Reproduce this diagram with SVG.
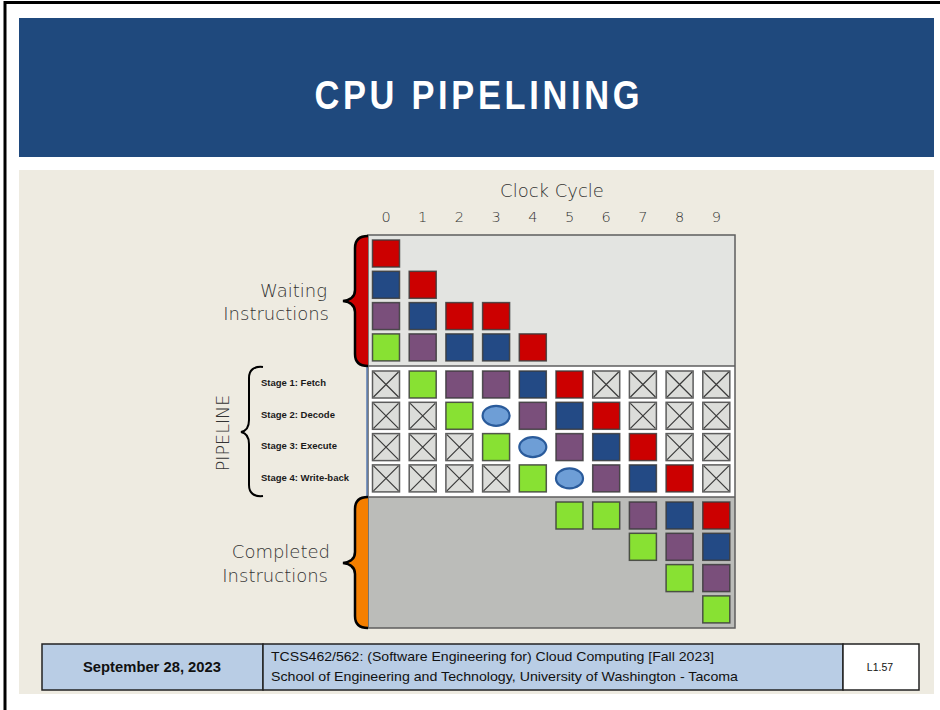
<svg xmlns="http://www.w3.org/2000/svg" xmlns:xlink="http://www.w3.org/1999/xlink" width="940" height="710" viewBox="0 0 940 710">
<style>
.lbl{font-family:"DejaVu Sans","Liberation Sans",sans-serif;font-weight:200;fill:#333}
.num{font-family:"DejaVu Sans","Liberation Sans",sans-serif;font-weight:200;fill:#333;font-size:14.5px;text-anchor:middle}
.stg{font-family:"Liberation Sans",sans-serif;font-weight:bold;font-size:9.5px;fill:#1a1a1a}
.r{fill:#CC0000}.b{fill:#234A85}.p{fill:#7A4F7B}.g{fill:#88E133}
.sq{stroke:#3b3b3b;stroke-width:1.5;stroke-opacity:0.85}
.bub{fill:#6E9ED6;stroke:#2A5B9B;stroke-width:2.2}
.ft{font-family:"Liberation Sans",sans-serif;fill:#111}
</style>
<defs>
<g id="xc"><rect width="27" height="27" fill="#DCDDDA" stroke="#5c5c5c" stroke-width="1.5"/><path d="M1,1 L26,26 M26,1 L1,26" stroke="#3a3a3a" stroke-width="1.2" fill="none"/></g>
</defs>
<rect x="0" y="0" width="940" height="710" fill="#ffffff"/>
<path d="M5,710 L5,2.5 L940,2.5" fill="none" stroke="#000" stroke-width="3"/>
<g id="title">
<rect x="19" y="18" width="915" height="139" fill="#1F497D"/>
<text transform="translate(477,109) scale(0.84,1)" x="0" y="0" text-anchor="middle" font-family="Liberation Sans, sans-serif" font-weight="bold" font-size="41" fill="#ffffff" textLength="387" lengthAdjust="spacing">CPU PIPELINING</text>
</g>
<rect x="19" y="170" width="915" height="524" fill="#EEEBE1"/>
<g id="axis">
<text class="lbl" x="552" y="197" font-size="18" text-anchor="middle">Clock Cycle</text>
<text class="num" x="386" y="222">0</text>
<text class="num" x="422.7" y="222">1</text>
<text class="num" x="459.4" y="222">2</text>
<text class="num" x="496.1" y="222">3</text>
<text class="num" x="532.8" y="222">4</text>
<text class="num" x="569.5" y="222">5</text>
<text class="num" x="606.2" y="222">6</text>
<text class="num" x="642.9" y="222">7</text>
<text class="num" x="679.6" y="222">8</text>
<text class="num" x="716.3" y="222">9</text>
</g>
<g id="chart">
<rect x="368" y="235" width="367" height="131" fill="#E3E4E1"/>
<rect x="368" y="366" width="367" height="131" fill="#FFFFFF"/>
<rect x="368" y="497" width="367" height="131" fill="#BBBCB9"/>
<rect x="368" y="235" width="367" height="393" fill="none" stroke="#5e5e5e" stroke-width="1.5"/>
<line x1="368" y1="366" x2="735" y2="366" stroke="#5e5e5e" stroke-width="1.5"/>
<line x1="368" y1="497" x2="735" y2="497" stroke="#5e5e5e" stroke-width="1.5"/>
<line x1="367" y1="366" x2="367" y2="497" stroke="#5a7db3" stroke-width="1.5"/>
</g>
<g id="waiting">
<rect class="sq r" x="372.5" y="240" width="27" height="27"/>
<rect class="sq b" x="372.5" y="271.3" width="27" height="27"/>
<rect class="sq r" x="409.2" y="271.3" width="27" height="27"/>
<rect class="sq p" x="372.5" y="302.6" width="27" height="27"/>
<rect class="sq b" x="409.2" y="302.6" width="27" height="27"/>
<rect class="sq r" x="445.9" y="302.6" width="27" height="27"/>
<rect class="sq r" x="482.6" y="302.6" width="27" height="27"/>
<rect class="sq g" x="372.5" y="333.9" width="27" height="27"/>
<rect class="sq p" x="409.2" y="333.9" width="27" height="27"/>
<rect class="sq b" x="445.9" y="333.9" width="27" height="27"/>
<rect class="sq b" x="482.6" y="333.9" width="27" height="27"/>
<rect class="sq r" x="519.3" y="333.9" width="27" height="27"/>
</g>
<g id="pipeline">
<use xlink:href="#xc" x="372.5" y="371"/>
<rect class="sq g" x="409.2" y="371" width="27" height="27"/>
<rect class="sq p" x="445.9" y="371" width="27" height="27"/>
<rect class="sq p" x="482.6" y="371" width="27" height="27"/>
<rect class="sq b" x="519.3" y="371" width="27" height="27"/>
<rect class="sq r" x="556" y="371" width="27" height="27"/>
<use xlink:href="#xc" x="592.7" y="371"/>
<use xlink:href="#xc" x="629.4" y="371"/>
<use xlink:href="#xc" x="666.1" y="371"/>
<use xlink:href="#xc" x="702.8" y="371"/>

<use xlink:href="#xc" x="372.5" y="402.3"/>
<use xlink:href="#xc" x="409.2" y="402.3"/>
<rect class="sq g" x="445.9" y="402.3" width="27" height="27"/>
<ellipse class="bub" cx="496.1" cy="415.8" rx="13.5" ry="10"/>
<rect class="sq p" x="519.3" y="402.3" width="27" height="27"/>
<rect class="sq b" x="556" y="402.3" width="27" height="27"/>
<rect class="sq r" x="592.7" y="402.3" width="27" height="27"/>
<use xlink:href="#xc" x="629.4" y="402.3"/>
<use xlink:href="#xc" x="666.1" y="402.3"/>
<use xlink:href="#xc" x="702.8" y="402.3"/>

<use xlink:href="#xc" x="372.5" y="433.6"/>
<use xlink:href="#xc" x="409.2" y="433.6"/>
<use xlink:href="#xc" x="445.9" y="433.6"/>
<rect class="sq g" x="482.6" y="433.6" width="27" height="27"/>
<ellipse class="bub" cx="532.8" cy="447.1" rx="13.5" ry="10"/>
<rect class="sq p" x="556" y="433.6" width="27" height="27"/>
<rect class="sq b" x="592.7" y="433.6" width="27" height="27"/>
<rect class="sq r" x="629.4" y="433.6" width="27" height="27"/>
<use xlink:href="#xc" x="666.1" y="433.6"/>
<use xlink:href="#xc" x="702.8" y="433.6"/>

<use xlink:href="#xc" x="372.5" y="464.9"/>
<use xlink:href="#xc" x="409.2" y="464.9"/>
<use xlink:href="#xc" x="445.9" y="464.9"/>
<use xlink:href="#xc" x="482.6" y="464.9"/>
<rect class="sq g" x="519.3" y="464.9" width="27" height="27"/>
<ellipse class="bub" cx="569.5" cy="478.4" rx="13.5" ry="10"/>
<rect class="sq p" x="592.7" y="464.9" width="27" height="27"/>
<rect class="sq b" x="629.4" y="464.9" width="27" height="27"/>
<rect class="sq r" x="666.1" y="464.9" width="27" height="27"/>
<use xlink:href="#xc" x="702.8" y="464.9"/>
</g>
<g id="completed">
<rect class="sq g" x="556" y="502" width="27" height="27"/>
<rect class="sq g" x="592.7" y="502" width="27" height="27"/>
<rect class="sq p" x="629.4" y="502" width="27" height="27"/>
<rect class="sq b" x="666.1" y="502" width="27" height="27"/>
<rect class="sq r" x="702.8" y="502" width="27" height="27"/>
<rect class="sq g" x="629.4" y="533.3" width="27" height="27"/>
<rect class="sq p" x="666.1" y="533.3" width="27" height="27"/>
<rect class="sq b" x="702.8" y="533.3" width="27" height="27"/>
<rect class="sq g" x="666.1" y="564.6" width="27" height="27"/>
<rect class="sq p" x="702.8" y="564.6" width="27" height="27"/>
<rect class="sq g" x="702.8" y="595.9" width="27" height="27"/>
</g>
<g id="braces">
<path d="M368,236 C360,236 355,240 355,248 L355,290 C355,296 351,300 343,301 C351,302 355,306 355,312 L355,354 C355,362 360,366 368,366 Z" fill="#CC0000"/>
<path d="M368,236 C360,236 355,240 355,248 L355,290 C355,296 351,300 343,301 C351,302 355,306 355,312 L355,354 C355,362 360,366 368,366" fill="none" stroke="#000" stroke-width="2.5"/>
<path d="M368,497 C360,497 355,501 355,509 L355,552 C355,558 351,562 343,563 C351,564 355,568 355,574 L355,616 C355,624 360,628 368,628 Z" fill="#F57F00"/>
<path d="M368,497 C360,497 355,501 355,509 L355,552 C355,558 351,562 343,563 C351,564 355,568 355,574 L355,616 C355,624 360,628 368,628" fill="none" stroke="#000" stroke-width="2.5"/>
<path d="M263,367 C254,366 249,370 249,378 L249,420 C249,427 246,431 241,432 C246,433 249,437 249,444 L249,485 C249,493 254,497 263,496" fill="none" stroke="#000" stroke-width="2"/>
</g>
<g id="labels">
<text class="lbl" x="327" y="297" font-size="18" text-anchor="end">Waiting</text>
<text class="lbl" x="329" y="320" font-size="18" text-anchor="end">Instructions</text>
<text class="lbl" x="330" y="558" font-size="18" text-anchor="end">Completed</text>
<text class="lbl" x="328" y="582" font-size="18" text-anchor="end">Instructions</text>
<text class="lbl" x="0" y="0" font-size="17.5" text-anchor="middle" transform="translate(229,433) rotate(-90)">PIPELINE</text>
<text class="stg" x="261" y="386">Stage 1: Fetch</text>
<text class="stg" x="261" y="418">Stage 2: Decode</text>
<text class="stg" x="261" y="449">Stage 3: Execute</text>
<text class="stg" x="261" y="481">Stage 4: Write-back</text>
</g>
<g id="footer">
<rect x="42" y="644" width="221" height="46" fill="#B9CDE5" stroke="#222" stroke-width="1.5"/>
<rect x="263" y="644" width="580" height="46" fill="#B9CDE5" stroke="#222" stroke-width="1.5"/>
<rect x="843" y="644" width="76" height="46" fill="#FFFFFF" stroke="#222" stroke-width="1.5"/>
<text class="ft" x="152" y="672" font-size="14.5" font-weight="bold" text-anchor="middle" textLength="138" lengthAdjust="spacingAndGlyphs">September 28, 2023</text>
<text class="ft" x="271" y="661" font-size="13" textLength="443" lengthAdjust="spacingAndGlyphs">TCSS462/562: (Software Engineering for) Cloud Computing [Fall 2023]</text>
<text class="ft" x="271" y="681" font-size="13" textLength="467" lengthAdjust="spacingAndGlyphs">School of Engineering and Technology, University of Washington - Tacoma</text>
<text class="ft" x="880" y="671" font-size="10.5" text-anchor="middle">L1.57</text>
</g>
</svg>
